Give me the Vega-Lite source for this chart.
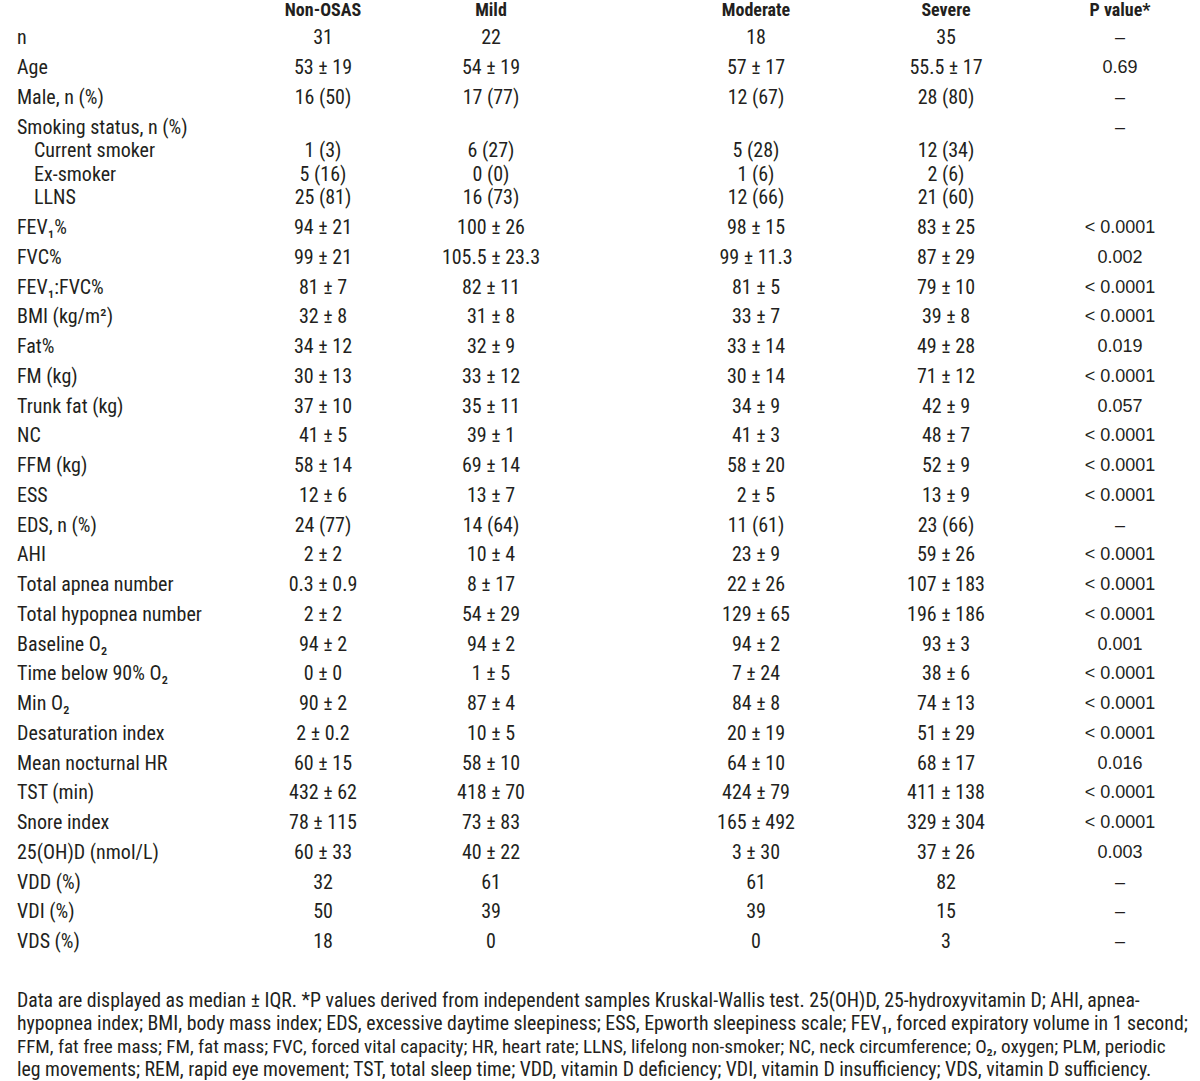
{
  "$schema": "https://vega.github.io/schema/vega-lite/v6.json",
  "width": 1200,
  "height": 1081,
  "padding": 0,
  "autosize": {"type": "fit", "contains": "padding"},
  "background": "white",
  "config": {
    "view": {"stroke": null},
    "text": {"font": "Roboto Condensed, Liberation Sans Narrow, Arial Narrow, DejaVu Sans Condensed, sans-serif", "fontSize": 20, "color": "#231f20", "baseline": "middle"}
  },
  "datasets": {
    "head": [
      {"i": 0, "c": 1, "t": "Non-OSAS"},
      {"i": 0, "c": 2, "t": "Mild"},
      {"i": 0, "c": 3, "t": "Moderate"},
      {"i": 0, "c": 4, "t": "Severe"},
      {"i": 0, "c": 5, "t": "P value*"}
    ],
    "rows": [
      {"i": 1, "label": "n", "sub": false, "a": "31", "b": "22", "c": "18", "d": "35", "p": "–"},
      {"i": 2, "label": "Age", "sub": false, "a": "53 ± 19", "b": "54 ± 19", "c": "57 ± 17", "d": "55.5 ± 17", "p": "0.69"},
      {"i": 3, "label": "Male, n (%)", "sub": false, "a": "16 (50)", "b": "17 (77)", "c": "12 (67)", "d": "28 (80)", "p": "–"},
      {"i": 4, "label": "Smoking status, n (%)", "sub": false, "a": "", "b": "", "c": "", "d": "", "p": "–"},
      {"i": 5, "label": "Current smoker", "sub": true, "a": "1 (3)", "b": "6 (27)", "c": "5 (28)", "d": "12 (34)", "p": ""},
      {"i": 6, "label": "Ex-smoker", "sub": true, "a": "5 (16)", "b": "0 (0)", "c": "1 (6)", "d": "2 (6)", "p": ""},
      {"i": 7, "label": "LLNS", "sub": true, "a": "25 (81)", "b": "16 (73)", "c": "12 (66)", "d": "21 (60)", "p": ""},
      {"i": 8, "label": "FEV₁%", "sub": false, "a": "94 ± 21", "b": "100 ± 26", "c": "98 ± 15", "d": "83 ± 25", "p": "< 0.0001"},
      {"i": 9, "label": "FVC%", "sub": false, "a": "99 ± 21", "b": "105.5 ± 23.3", "c": "99 ± 11.3", "d": "87 ± 29", "p": "0.002"},
      {"i": 10, "label": "FEV₁:FVC%", "sub": false, "a": "81 ± 7", "b": "82 ± 11", "c": "81 ± 5", "d": "79 ± 10", "p": "< 0.0001"},
      {"i": 11, "label": "BMI (kg/m²)", "sub": false, "a": "32 ± 8", "b": "31 ± 8", "c": "33 ± 7", "d": "39 ± 8", "p": "< 0.0001"},
      {"i": 12, "label": "Fat%", "sub": false, "a": "34 ± 12", "b": "32 ± 9", "c": "33 ± 14", "d": "49 ± 28", "p": "0.019"},
      {"i": 13, "label": "FM (kg)", "sub": false, "a": "30 ± 13", "b": "33 ± 12", "c": "30 ± 14", "d": "71 ± 12", "p": "< 0.0001"},
      {"i": 14, "label": "Trunk fat (kg)", "sub": false, "a": "37 ± 10", "b": "35 ± 11", "c": "34 ± 9", "d": "42 ± 9", "p": "0.057"},
      {"i": 15, "label": "NC", "sub": false, "a": "41 ± 5", "b": "39 ± 1", "c": "41 ± 3", "d": "48 ± 7", "p": "< 0.0001"},
      {"i": 16, "label": "FFM (kg)", "sub": false, "a": "58 ± 14", "b": "69 ± 14", "c": "58 ± 20", "d": "52 ± 9", "p": "< 0.0001"},
      {"i": 17, "label": "ESS", "sub": false, "a": "12 ± 6", "b": "13 ± 7", "c": "2 ± 5", "d": "13 ± 9", "p": "< 0.0001"},
      {"i": 18, "label": "EDS, n (%)", "sub": false, "a": "24 (77)", "b": "14 (64)", "c": "11 (61)", "d": "23 (66)", "p": "–"},
      {"i": 19, "label": "AHI", "sub": false, "a": "2 ± 2", "b": "10 ± 4", "c": "23 ± 9", "d": "59 ± 26", "p": "< 0.0001"},
      {"i": 20, "label": "Total apnea number", "sub": false, "a": "0.3 ± 0.9", "b": "8 ± 17", "c": "22 ± 26", "d": "107 ± 183", "p": "< 0.0001"},
      {"i": 21, "label": "Total hypopnea number", "sub": false, "a": "2 ± 2", "b": "54 ± 29", "c": "129 ± 65", "d": "196 ± 186", "p": "< 0.0001"},
      {"i": 22, "label": "Baseline O₂", "sub": false, "a": "94 ± 2", "b": "94 ± 2", "c": "94 ± 2", "d": "93 ± 3", "p": "0.001"},
      {"i": 23, "label": "Time below 90% O₂", "sub": false, "a": "0 ± 0", "b": "1 ± 5", "c": "7 ± 24", "d": "38 ± 6", "p": "< 0.0001"},
      {"i": 24, "label": "Min O₂", "sub": false, "a": "90 ± 2", "b": "87 ± 4", "c": "84 ± 8", "d": "74 ± 13", "p": "< 0.0001"},
      {"i": 25, "label": "Desaturation index", "sub": false, "a": "2 ± 0.2", "b": "10 ± 5", "c": "20 ± 19", "d": "51 ± 29", "p": "< 0.0001"},
      {"i": 26, "label": "Mean nocturnal HR", "sub": false, "a": "60 ± 15", "b": "58 ± 10", "c": "64 ± 10", "d": "68 ± 17", "p": "0.016"},
      {"i": 27, "label": "TST (min)", "sub": false, "a": "432 ± 62", "b": "418 ± 70", "c": "424 ± 79", "d": "411 ± 138", "p": "< 0.0001"},
      {"i": 28, "label": "Snore index", "sub": false, "a": "78 ± 115", "b": "73 ± 83", "c": "165 ± 492", "d": "329 ± 304", "p": "< 0.0001"},
      {"i": 29, "label": "25(OH)D (nmol/L)", "sub": false, "a": "60 ± 33", "b": "40 ± 22", "c": "3 ± 30", "d": "37 ± 26", "p": "0.003"},
      {"i": 30, "label": "VDD (%)", "sub": false, "a": "32", "b": "61", "c": "61", "d": "82", "p": "–"},
      {"i": 31, "label": "VDI (%)", "sub": false, "a": "50", "b": "39", "c": "39", "d": "15", "p": "–"},
      {"i": 32, "label": "VDS (%)", "sub": false, "a": "18", "b": "0", "c": "0", "d": "3", "p": "–"}
    ],
    "notes": [
      {"i": 33, "t": "Data are displayed as median ± IQR. *P values derived from independent samples Kruskal-Wallis test. 25(OH)D, 25-hydroxyvitamin D; AHI, apnea-"},
      {"i": 34, "t": "hypopnea index; BMI, body mass index; EDS, excessive daytime sleepiness; ESS, Epworth sleepiness scale; FEV₁, forced expiratory volume in 1 second;"},
      {"i": 35, "t": "FFM, fat free mass; FM, fat mass; FVC, forced vital capacity; HR, heart rate; LLNS, lifelong non-smoker; NC, neck circumference; O₂, oxygen; PLM, periodic"},
      {"i": 36, "t": "leg movements; REM, rapid eye movement; TST, total sleep time; VDD, vitamin D deficiency; VDI, vitamin D insufficiency; VDS, vitamin D sufficiency."}
    ]
  },
  "encoding": {
    "y": {"field": "i", "type": "quantitative", "axis": null,
      "scale": {"domain": [0, 1, 4, 7, 8, 32, 33, 36], "range": [11, 38, 128, 198, 228, 942, 1001, 1070], "nice": false, "zero": false}}
  },
  "layer": [
    {
      "data": {"name": "head"},
      "mark": {"type": "text", "fontWeight": "bold", "align": "center", "fontSize": 18},
      "encoding": {
        "x": {"field": "c", "type": "quantitative", "axis": null,
          "scale": {"domain": [0, 1, 2, 3, 4, 5], "range": [17, 323, 491, 756, 946, 1120], "nice": false, "zero": false}},
        "text": {"field": "t"}
      }
    },
    {
      "data": {"name": "rows"},
      "transform": [{"filter": "!datum.sub"}],
      "mark": {"type": "text", "align": "left"},
      "encoding": {
        "x": {"datum": 0, "type": "quantitative", "axis": null},
        "text": {"field": "label"}
      }
    },
    {
      "data": {"name": "rows"},
      "transform": [{"filter": "datum.sub"}],
      "mark": {"type": "text", "align": "left", "dx": 17},
      "encoding": {
        "x": {"datum": 0, "type": "quantitative", "axis": null},
        "text": {"field": "label"}
      }
    },
    {
      "data": {"name": "rows"},
      "mark": {"type": "text", "align": "center"},
      "encoding": {
        "x": {"datum": 1, "type": "quantitative", "axis": null},
        "text": {"field": "a"}
      }
    },
    {
      "data": {"name": "rows"},
      "mark": {"type": "text", "align": "center"},
      "encoding": {
        "x": {"datum": 2, "type": "quantitative", "axis": null},
        "text": {"field": "b"}
      }
    },
    {
      "data": {"name": "rows"},
      "mark": {"type": "text", "align": "center"},
      "encoding": {
        "x": {"datum": 3, "type": "quantitative", "axis": null},
        "text": {"field": "c"}
      }
    },
    {
      "data": {"name": "rows"},
      "mark": {"type": "text", "align": "center"},
      "encoding": {
        "x": {"datum": 4, "type": "quantitative", "axis": null},
        "text": {"field": "d"}
      }
    },
    {
      "data": {"name": "rows"},
      "mark": {"type": "text", "align": "center", "font": "Liberation Sans, Arial, sans-serif", "fontSize": 18},
      "encoding": {
        "x": {"datum": 5, "type": "quantitative", "axis": null},
        "text": {"field": "p"}
      }
    },
    {
      "data": {"name": "notes"},
      "mark": {"type": "text", "align": "left"},
      "encoding": {
        "x": {"datum": 0, "type": "quantitative", "axis": null},
        "text": {"field": "t"},
        "size": {"condition": {"test": "datum.i == 35", "value": 19.1}, "value": 19.8}
      }
    }
  ]
}
